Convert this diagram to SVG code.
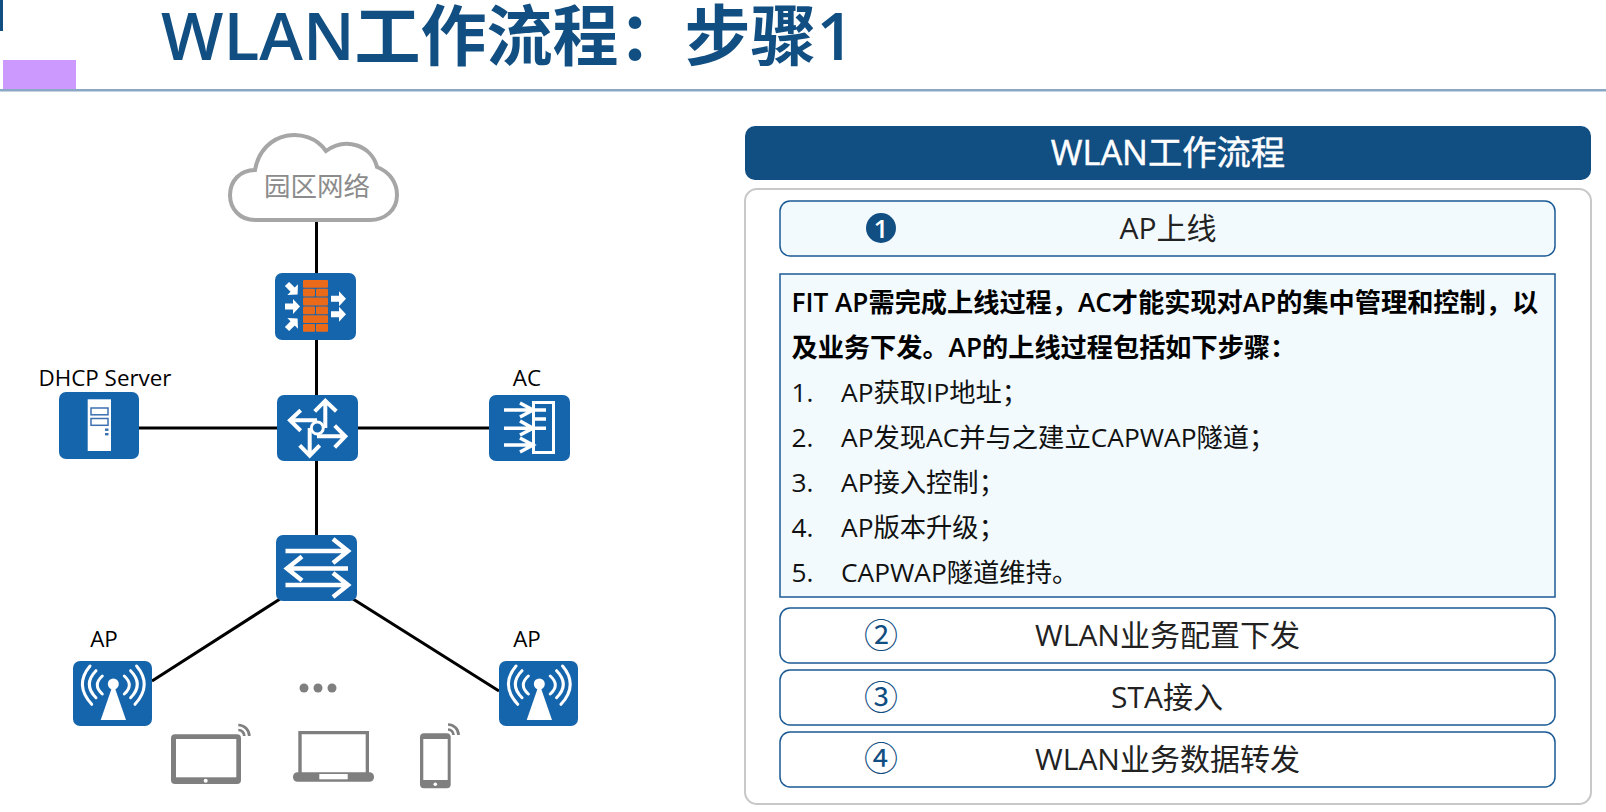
<svg xmlns="http://www.w3.org/2000/svg" xmlns:xlink="http://www.w3.org/1999/xlink" width="1606" height="812" viewBox="0 0 1606 812">
<style>
text{font-family:"Open Sans","Noto Sans CJK SC",sans-serif}
.t{font-size:66px;font-weight:600;fill:#114e82}
.step{fill:#fff;stroke:#1c5a94;stroke-width:1.5}
.st{font-size:30px;fill:#222;text-anchor:middle}
.num{font-size:34px;fill:#114e82;text-anchor:middle}
.b{font-size:26.2px;font-weight:600;fill:#000}
.n{font-size:26.3px;fill:#111}
.lab{font-size:22.400px;fill:#000;text-anchor:middle}
.box{fill:#1565ad}
.wl{fill:none;stroke:#fff;stroke-width:3;stroke-linecap:round}
.arw{fill:none;stroke:#fff;stroke-width:4}
.brick{fill:#eb6a1a}
.con{stroke:#000;stroke-width:3;fill:none}
.dev{fill:#7f7f7f}
.sig{fill:none;stroke:#7f7f7f;stroke-width:2.700}
</style>
<defs>
<g id="apicon">
<rect class="box" width="79" height="65" rx="7"/>
<path fill="#fff" d="M27.700 59L38.700 27.300H42L53 59Z"/>
<circle cx="40.300" cy="23" r="5.500" fill="#fff"/>
<path class="wl" d="M29.300 15Q19.300 24 29.300 33M23 9.700Q9.600 23.300 23 36.700M17 5Q1 24 18.700 43.300M51.300 15Q61.300 24 51.300 33M57.600 9.700Q71 23.300 57.600 36.700M63.600 5Q79.600 24 62 43.300"/>
</g>
<path id="fa" fill="#fff" d="M0-3H8V-7.500L15 0L8 7.500V3H0Z"/>
</defs>
<rect x="0" y="0" width="3" height="31" fill="#114e82"/>
<rect x="3" y="60" width="73" height="31" fill="#cc99ff"/>
<rect x="0" y="89" width="1606" height="2.500" fill="#8aa7c5"/>
<text class="t" x="161" y="60">WLAN工作流程&#xFF1A;步骤1</text>

<g id="connectors">
<path class="con" d="M316.500 222V273M316.500 337V396M316.500 460V536M139 428H278M355 428H490M280 599L152 681M353 599L499 691"/>
</g>

<g id="cloud">
<path d="M255 170C262 130 308 125 326 151C346 136 372 146 377 167C390 172 397 183 397 195C397 210 385 220 370 220H255C240 220 230 209 230 195C230 181 240 170 255 170Z" fill="#fff" stroke="#a6a6a6" stroke-width="4"/>
<text x="317" y="196" font-size="26.500" fill="#8c8c8c" text-anchor="middle">园区网络</text>
</g>

<g id="firewall">
<rect class="box" x="275" y="273" width="81" height="67" rx="7"/>
<g class="brick">
<rect x="303" y="280" width="25" height="7.800" rx="1"/>
<rect x="303" y="288.800" width="12" height="7.800" rx="1"/><rect x="316" y="288.800" width="12" height="7.800" rx="1"/>
<rect x="303" y="297.600" width="25" height="7.800" rx="1"/>
<rect x="303" y="306.400" width="12" height="7.800" rx="1"/><rect x="316" y="306.400" width="12" height="7.800" rx="1"/>
<rect x="303" y="315.200" width="25" height="7.800" rx="1"/>
<rect x="303" y="324" width="12" height="7.800" rx="1"/><rect x="316" y="324" width="12" height="7.800" rx="1"/>
</g>
<use xlink:href="#fa" transform="translate(287,284) rotate(45)"/>
<use xlink:href="#fa" transform="translate(285,306.500)"/>
<use xlink:href="#fa" transform="translate(287,329) rotate(-45)"/>
<use xlink:href="#fa" transform="translate(331,298.700)"/>
<use xlink:href="#fa" transform="translate(331,314.300)"/>
</g>

<g id="dhcp">
<text class="lab" x="105" y="386">DHCP Server</text>
<rect class="box" x="59" y="392" width="80" height="67" rx="7"/>
<rect x="87.700" y="399.300" width="23.300" height="51.700" fill="#fff"/>
<rect x="91" y="408" width="17" height="6.800" fill="#fff" stroke="#3c70b0" stroke-width="1.500"/>
<rect x="91" y="418.500" width="17" height="6.800" fill="#fff" stroke="#3c70b0" stroke-width="1.500"/>
<rect x="105" y="428.500" width="3.500" height="2.400" fill="#3c70b0"/>
<rect x="105" y="433" width="3.500" height="2.400" fill="#3c70b0"/>
</g>

<g id="router">
<rect class="box" x="277" y="395" width="81" height="66" rx="7"/>
<path class="arw" d="M325.300 428V401.500M314.700 411.300L325.300 400.700L336.300 411.300M317 420.300H291.500M300.700 410.300L290 420.300L300.700 430.700M317 436.300H344.500M334.700 425.700L345.300 436.300L334.700 447.300M309.700 428V454.500M299.700 445.300L309.700 455.700L319.700 445.300"/>
<circle cx="317.300" cy="428" r="6" fill="#1565ad" stroke="#fff" stroke-width="3"/>
</g>

<g id="ac">
<text class="lab" x="527" y="386">AC</text>
<rect class="box" x="489" y="395" width="81" height="66" rx="7"/>
<rect x="533.500" y="402.500" width="20" height="50" fill="none" stroke="#fff" stroke-width="3"/>
<path class="wl" style="stroke-linecap:butt;stroke-width:3.500" d="M504 410H546M504 428.300H546M504 445H533M534 419H546M520 403L533 410L520 417M520 421L533 428.300L520 435M520 438L533 445L520 452"/>
</g>

<g id="switch">
<rect class="box" x="276" y="535" width="81" height="66" rx="7"/>
<path class="arw" style="stroke-width:4.500" d="M285.500 551H347M333 539L348 551L333 563M348 568.500H287M302 556.500L287 568.500L302 580.500M285.500 585H347M333 573L348 585L333 597"/>
</g>

<g id="ap1"><text class="lab" x="104" y="647">AP</text><use xlink:href="#apicon" x="73" y="661"/></g>
<g id="ap2"><text class="lab" x="527" y="647">AP</text><use xlink:href="#apicon" x="499" y="661"/></g>

<g id="dots"><circle cx="304" cy="688" r="4.500" class="dev"/><circle cx="318" cy="688" r="4.500" class="dev"/><circle cx="332" cy="688" r="4.500" class="dev"/></g>

<g id="tablet">
<rect x="171" y="734.300" width="70" height="49.700" rx="4" class="dev"/>
<rect x="176" y="739" width="60.300" height="38.300" fill="#fff"/>
<circle cx="205.700" cy="780.700" r="2" fill="#fff"/>
<path class="sig" d="M238.300 730A6 6 0 0 1 244.300 736M238.300 725A11 11 0 0 1 249.300 736"/>
</g>

<g id="laptop">
<path class="dev" d="M298.300 731H369V773H365.700V734.300H301.700V773H298.300Z"/>
<rect x="293" y="772.300" width="81" height="9.400" rx="4.500" class="dev"/>
<rect x="319.300" y="774" width="28.400" height="5.300" fill="#fff"/>
</g>

<g id="phone">
<rect x="420" y="733.300" width="30.700" height="55" rx="4" class="dev"/>
<rect x="423.300" y="739" width="24.400" height="41" fill="#fff"/>
<circle cx="435.300" cy="784.300" r="1.800" fill="#fff"/>
<path class="sig" d="M449 728.500A5.500 5.500 0 0 1 454.500 734M449 723.500A10.500 10.500 0 0 1 459.500 734" transform="translate(-1,1)"/>
</g>

<g id="panel">
<rect x="745" y="126" width="846" height="54" rx="10" fill="#114e82"/>
<text x="1168" y="165" font-size="34.300" font-weight="400" fill="#fff" stroke="#fff" stroke-width=".5" text-anchor="middle">WLAN工作流程</text>
<rect x="745" y="189" width="846" height="615" rx="12" fill="#fff" stroke="#c8c8c8" stroke-width="2"/>
</g>

<g id="step1">
<rect class="step" x="780" y="201" width="775" height="55" rx="10" style="fill:#f2fafe"/>
<circle cx="881" cy="228" r="15" fill="#114e82"/>
<text x="881" y="238" font-size="26" font-weight="600" fill="#fff" text-anchor="middle">1</text>
<text class="st" x="1168" y="239">AP上线</text>
</g>

<g id="detail">
<rect x="780" y="274" width="775" height="323" fill="#f2fafe" stroke="#1c5a94" stroke-width="1.500"/>
<text class="b" x="791.500" y="312">FIT AP需完成上线过程&#xFF0C;AC才能实现对AP的集中管理和控制&#xFF0C;以</text>
<text class="b" x="791.500" y="357">及业务下发。AP的上线过程包括如下步骤&#xFF1A;</text>
<text class="n" x="791.500" y="402">1.</text><text class="n" x="841" y="402">AP获取IP地址&#xFF1B;</text>
<text class="n" x="791.500" y="447">2.</text><text class="n" x="841" y="447">AP发现AC并与之建立CAPWAP隧道&#xFF1B;</text>
<text class="n" x="791.500" y="492">3.</text><text class="n" x="841" y="492">AP接入控制&#xFF1B;</text>
<text class="n" x="791.500" y="537">4.</text><text class="n" x="841" y="537">AP版本升级&#xFF1B;</text>
<text class="n" x="791.500" y="582">5.</text><text class="n" x="841" y="582">CAPWAP隧道维持。</text>
</g>

<g id="step2"><rect class="step" x="780" y="608" width="775" height="55" rx="10"/><text class="num" x="881" y="648">②</text><text class="st" x="1167.500" y="646">WLAN业务配置下发</text></g>
<g id="step3"><rect class="step" x="780" y="670" width="775" height="55" rx="10"/><text class="num" x="881" y="710">③</text><text class="st" x="1167" y="708">STA接入</text></g>
<g id="step4"><rect class="step" x="780" y="732" width="775" height="55" rx="10"/><text class="num" x="881" y="771">④</text><text class="st" x="1167.500" y="770">WLAN业务数据转发</text></g>
</svg>
